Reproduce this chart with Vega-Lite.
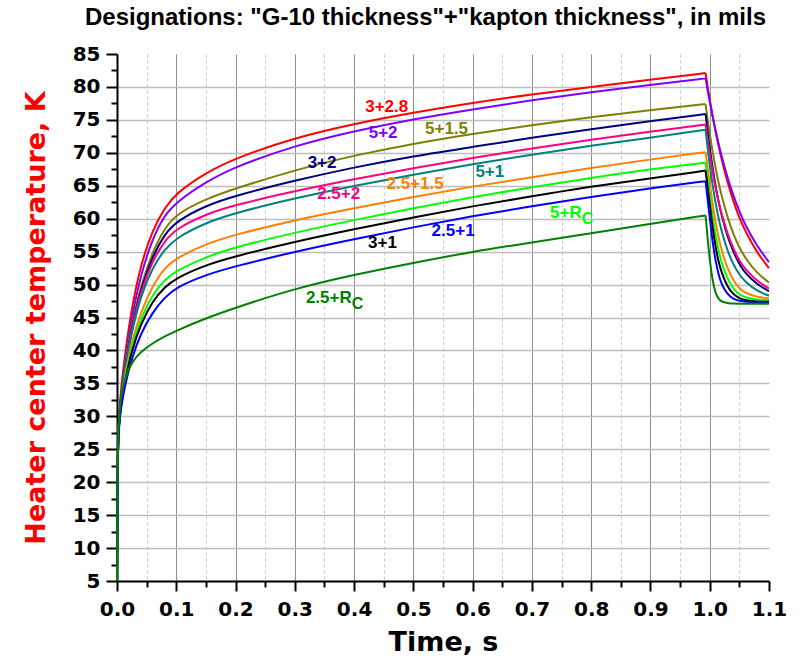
{
  "$schema": "https://vega.github.io/schema/vega-lite/v6.json",
  "width": 652,
  "height": 527,
  "autosize": {"type": "none"},
  "padding": {"left": 117, "top": 54, "right": 34, "bottom": 80},
  "background": "white",
  "title": {
    "text": "Designations: \"G-10 thickness\"+\"kapton thickness\", in mils",
    "font": "Liberation Sans", "fontSize": 24, "fontWeight": "bold", "color": "black",
    "anchor": "start", "frame": "group", "offset": 14, "dx": -32
  },
  "config": {"view": {"stroke": null}},
  "datasets": {
    "curves": [
      {"s":"3+2.8","p":"a","t":0,"T":5},{"s":"3+2.8","p":"a","t":0.001,"T":24},{"s":"3+2.8","p":"a","t":0.003,"T":30},{"s":"3+2.8","p":"a","t":0.007,"T":34.5},{"s":"3+2.8","p":"a","t":0.015,"T":40.5},{"s":"3+2.8","p":"a","t":0.025,"T":46.5},{"s":"3+2.8","p":"a","t":0.04,"T":53},{"s":"3+2.8","p":"a","t":0.06,"T":58.3},{"s":"3+2.8","p":"a","t":0.08,"T":61.6},{"s":"3+2.8","p":"a","t":0.1,"T":63.9},{"s":"3+2.8","p":"a","t":0.15,"T":67},{"s":"3+2.8","p":"a","t":0.2,"T":69.2},{"s":"3+2.8","p":"a","t":0.3,"T":72.3},{"s":"3+2.8","p":"a","t":0.4,"T":74.4},{"s":"3+2.8","p":"a","t":0.5,"T":76.1},{"s":"3+2.8","p":"a","t":0.6,"T":77.6},{"s":"3+2.8","p":"a","t":0.7,"T":78.9},{"s":"3+2.8","p":"a","t":0.8,"T":80},{"s":"3+2.8","p":"a","t":0.9,"T":81.1},{"s":"3+2.8","p":"a","t":0.993,"T":82.1},
      {"s":"3+2.8","p":"b","t":0.993,"T":82.1},{"s":"3+2.8","p":"b","t":0.997,"T":79.7},{"s":"3+2.8","p":"b","t":1,"T":78.1},{"s":"3+2.8","p":"b","t":1.005,"T":75.5},{"s":"3+2.8","p":"b","t":1.01,"T":73.2},{"s":"3+2.8","p":"b","t":1.015,"T":71},{"s":"3+2.8","p":"b","t":1.02,"T":69},{"s":"3+2.8","p":"b","t":1.03,"T":65.5},{"s":"3+2.8","p":"b","t":1.04,"T":62.6},{"s":"3+2.8","p":"b","t":1.05,"T":60.1},{"s":"3+2.8","p":"b","t":1.06,"T":58.1},{"s":"3+2.8","p":"b","t":1.08,"T":54.8},{"s":"3+2.8","p":"b","t":1.1,"T":52.5},
      {"s":"5+2","p":"a","t":0,"T":5},{"s":"5+2","p":"a","t":0.001,"T":24},{"s":"5+2","p":"a","t":0.003,"T":29.5},{"s":"5+2","p":"a","t":0.007,"T":33.8},{"s":"5+2","p":"a","t":0.015,"T":39.5},{"s":"5+2","p":"a","t":0.025,"T":45},{"s":"5+2","p":"a","t":0.04,"T":51.5},{"s":"5+2","p":"a","t":0.06,"T":57},{"s":"5+2","p":"a","t":0.08,"T":60.5},{"s":"5+2","p":"a","t":0.1,"T":62.5},{"s":"5+2","p":"a","t":0.15,"T":65.6},{"s":"5+2","p":"a","t":0.2,"T":67.9},{"s":"5+2","p":"a","t":0.3,"T":71.1},{"s":"5+2","p":"a","t":0.4,"T":73.3},{"s":"5+2","p":"a","t":0.5,"T":75.1},{"s":"5+2","p":"a","t":0.6,"T":76.6},{"s":"5+2","p":"a","t":0.7,"T":78},{"s":"5+2","p":"a","t":0.8,"T":79.2},{"s":"5+2","p":"a","t":0.9,"T":80.3},{"s":"5+2","p":"a","t":0.993,"T":81.3},
      {"s":"5+2","p":"b","t":0.993,"T":81.3},{"s":"5+2","p":"b","t":0.997,"T":79.2},{"s":"5+2","p":"b","t":1,"T":77.8},{"s":"5+2","p":"b","t":1.005,"T":75.4},{"s":"5+2","p":"b","t":1.01,"T":73.3},{"s":"5+2","p":"b","t":1.015,"T":71.3},{"s":"5+2","p":"b","t":1.02,"T":69.5},{"s":"5+2","p":"b","t":1.03,"T":66.2},{"s":"5+2","p":"b","t":1.04,"T":63.5},{"s":"5+2","p":"b","t":1.05,"T":61.1},{"s":"5+2","p":"b","t":1.06,"T":59},{"s":"5+2","p":"b","t":1.08,"T":55.8},{"s":"5+2","p":"b","t":1.1,"T":53.4},
      {"s":"5+1.5","p":"a","t":0,"T":5},{"s":"5+1.5","p":"a","t":0.001,"T":24},{"s":"5+1.5","p":"a","t":0.003,"T":29.3},{"s":"5+1.5","p":"a","t":0.007,"T":33.5},{"s":"5+1.5","p":"a","t":0.015,"T":39},{"s":"5+1.5","p":"a","t":0.025,"T":44},{"s":"5+1.5","p":"a","t":0.04,"T":49.8},{"s":"5+1.5","p":"a","t":0.06,"T":55},{"s":"5+1.5","p":"a","t":0.08,"T":58.5},{"s":"5+1.5","p":"a","t":0.1,"T":60.7},{"s":"5+1.5","p":"a","t":0.15,"T":63},{"s":"5+1.5","p":"a","t":0.2,"T":64.6},{"s":"5+1.5","p":"a","t":0.3,"T":67.4},{"s":"5+1.5","p":"a","t":0.4,"T":69.6},{"s":"5+1.5","p":"a","t":0.5,"T":71.4},{"s":"5+1.5","p":"a","t":0.6,"T":72.9},{"s":"5+1.5","p":"a","t":0.7,"T":74.2},{"s":"5+1.5","p":"a","t":0.8,"T":75.4},{"s":"5+1.5","p":"a","t":0.9,"T":76.5},{"s":"5+1.5","p":"a","t":0.993,"T":77.4},
      {"s":"5+1.5","p":"b","t":0.993,"T":77.4},{"s":"5+1.5","p":"b","t":0.997,"T":74.7},{"s":"5+1.5","p":"b","t":1,"T":72.9},{"s":"5+1.5","p":"b","t":1.005,"T":70.1},{"s":"5+1.5","p":"b","t":1.01,"T":67.6},{"s":"5+1.5","p":"b","t":1.015,"T":65.4},{"s":"5+1.5","p":"b","t":1.02,"T":63.5},{"s":"5+1.5","p":"b","t":1.03,"T":60.2},{"s":"5+1.5","p":"b","t":1.04,"T":57.6},{"s":"5+1.5","p":"b","t":1.05,"T":55.6},{"s":"5+1.5","p":"b","t":1.06,"T":54},{"s":"5+1.5","p":"b","t":1.08,"T":51.7},{"s":"5+1.5","p":"b","t":1.1,"T":50.3},
      {"s":"3+2","p":"a","t":0,"T":5},{"s":"3+2","p":"a","t":0.001,"T":24},{"s":"3+2","p":"a","t":0.003,"T":29.3},{"s":"3+2","p":"a","t":0.007,"T":33.3},{"s":"3+2","p":"a","t":0.015,"T":38.5},{"s":"3+2","p":"a","t":0.025,"T":43.5},{"s":"3+2","p":"a","t":0.04,"T":49.3},{"s":"3+2","p":"a","t":0.06,"T":54.3},{"s":"3+2","p":"a","t":0.08,"T":57.6},{"s":"3+2","p":"a","t":0.1,"T":59.6},{"s":"3+2","p":"a","t":0.15,"T":62},{"s":"3+2","p":"a","t":0.2,"T":63.5},{"s":"3+2","p":"a","t":0.3,"T":65.8},{"s":"3+2","p":"a","t":0.4,"T":67.8},{"s":"3+2","p":"a","t":0.5,"T":69.5},{"s":"3+2","p":"a","t":0.6,"T":70.9},{"s":"3+2","p":"a","t":0.7,"T":72.3},{"s":"3+2","p":"a","t":0.8,"T":73.6},{"s":"3+2","p":"a","t":0.9,"T":74.8},{"s":"3+2","p":"a","t":0.993,"T":75.9},
      {"s":"3+2","p":"b","t":0.993,"T":75.9},{"s":"3+2","p":"b","t":0.997,"T":72.8},{"s":"3+2","p":"b","t":1,"T":70.7},{"s":"3+2","p":"b","t":1.005,"T":67.6},{"s":"3+2","p":"b","t":1.01,"T":64.9},{"s":"3+2","p":"b","t":1.015,"T":62.5},{"s":"3+2","p":"b","t":1.02,"T":60.5},{"s":"3+2","p":"b","t":1.03,"T":57.3},{"s":"3+2","p":"b","t":1.04,"T":54.9},{"s":"3+2","p":"b","t":1.05,"T":53.1},{"s":"3+2","p":"b","t":1.06,"T":51.7},{"s":"3+2","p":"b","t":1.08,"T":50},{"s":"3+2","p":"b","t":1.1,"T":49},
      {"s":"2.5+2","p":"a","t":0,"T":5},{"s":"2.5+2","p":"a","t":0.001,"T":24},{"s":"2.5+2","p":"a","t":0.003,"T":29.2},{"s":"2.5+2","p":"a","t":0.007,"T":33.2},{"s":"2.5+2","p":"a","t":0.015,"T":38.3},{"s":"2.5+2","p":"a","t":0.025,"T":43.2},{"s":"2.5+2","p":"a","t":0.04,"T":49},{"s":"2.5+2","p":"a","t":0.06,"T":53.6},{"s":"2.5+2","p":"a","t":0.08,"T":56.6},{"s":"2.5+2","p":"a","t":0.1,"T":58.5},{"s":"2.5+2","p":"a","t":0.15,"T":60.7},{"s":"2.5+2","p":"a","t":0.2,"T":62.1},{"s":"2.5+2","p":"a","t":0.3,"T":64.2},{"s":"2.5+2","p":"a","t":0.4,"T":66},{"s":"2.5+2","p":"a","t":0.5,"T":67.7},{"s":"2.5+2","p":"a","t":0.6,"T":69.2},{"s":"2.5+2","p":"a","t":0.7,"T":70.7},{"s":"2.5+2","p":"a","t":0.8,"T":72},{"s":"2.5+2","p":"a","t":0.9,"T":73.2},{"s":"2.5+2","p":"a","t":0.993,"T":74.3},
      {"s":"2.5+2","p":"b","t":0.993,"T":74.3},{"s":"2.5+2","p":"b","t":0.997,"T":71.6},{"s":"2.5+2","p":"b","t":1,"T":69.8},{"s":"2.5+2","p":"b","t":1.005,"T":67},{"s":"2.5+2","p":"b","t":1.01,"T":64.6},{"s":"2.5+2","p":"b","t":1.015,"T":62.5},{"s":"2.5+2","p":"b","t":1.02,"T":60.7},{"s":"2.5+2","p":"b","t":1.03,"T":57.7},{"s":"2.5+2","p":"b","t":1.04,"T":55.4},{"s":"2.5+2","p":"b","t":1.05,"T":53.6},{"s":"2.5+2","p":"b","t":1.06,"T":52.3},{"s":"2.5+2","p":"b","t":1.08,"T":50.5},{"s":"2.5+2","p":"b","t":1.1,"T":49.4},
      {"s":"5+1","p":"a","t":0,"T":5},{"s":"5+1","p":"a","t":0.001,"T":24},{"s":"5+1","p":"a","t":0.003,"T":29},{"s":"5+1","p":"a","t":0.007,"T":33},{"s":"5+1","p":"a","t":0.015,"T":38},{"s":"5+1","p":"a","t":0.025,"T":42.8},{"s":"5+1","p":"a","t":0.04,"T":48.3},{"s":"5+1","p":"a","t":0.06,"T":52.6},{"s":"5+1","p":"a","t":0.08,"T":55.3},{"s":"5+1","p":"a","t":0.1,"T":57.1},{"s":"5+1","p":"a","t":0.15,"T":59.4},{"s":"5+1","p":"a","t":0.2,"T":60.9},{"s":"5+1","p":"a","t":0.3,"T":63.1},{"s":"5+1","p":"a","t":0.4,"T":65},{"s":"5+1","p":"a","t":0.5,"T":66.7},{"s":"5+1","p":"a","t":0.6,"T":68.3},{"s":"5+1","p":"a","t":0.7,"T":69.7},{"s":"5+1","p":"a","t":0.8,"T":71.1},{"s":"5+1","p":"a","t":0.9,"T":72.3},{"s":"5+1","p":"a","t":0.993,"T":73.5},
      {"s":"5+1","p":"b","t":0.993,"T":73.5},{"s":"5+1","p":"b","t":0.997,"T":70.3},{"s":"5+1","p":"b","t":1,"T":68.1},{"s":"5+1","p":"b","t":1.005,"T":65},{"s":"5+1","p":"b","t":1.01,"T":62.3},{"s":"5+1","p":"b","t":1.015,"T":60},{"s":"5+1","p":"b","t":1.02,"T":58.1},{"s":"5+1","p":"b","t":1.03,"T":55.1},{"s":"5+1","p":"b","t":1.04,"T":53},{"s":"5+1","p":"b","t":1.05,"T":51.5},{"s":"5+1","p":"b","t":1.06,"T":50.4},{"s":"5+1","p":"b","t":1.08,"T":49},{"s":"5+1","p":"b","t":1.1,"T":48.3},
      {"s":"2.5+1.5","p":"a","t":0,"T":5},{"s":"2.5+1.5","p":"a","t":0.001,"T":24},{"s":"2.5+1.5","p":"a","t":0.003,"T":28.8},{"s":"2.5+1.5","p":"a","t":0.007,"T":32.5},{"s":"2.5+1.5","p":"a","t":0.015,"T":37},{"s":"2.5+1.5","p":"a","t":0.025,"T":41.3},{"s":"2.5+1.5","p":"a","t":0.04,"T":45.8},{"s":"2.5+1.5","p":"a","t":0.06,"T":49.8},{"s":"2.5+1.5","p":"a","t":0.08,"T":52.5},{"s":"2.5+1.5","p":"a","t":0.1,"T":54},{"s":"2.5+1.5","p":"a","t":0.15,"T":56.2},{"s":"2.5+1.5","p":"a","t":0.2,"T":57.6},{"s":"2.5+1.5","p":"a","t":0.3,"T":59.8},{"s":"2.5+1.5","p":"a","t":0.4,"T":61.6},{"s":"2.5+1.5","p":"a","t":0.5,"T":63.3},{"s":"2.5+1.5","p":"a","t":0.6,"T":64.9},{"s":"2.5+1.5","p":"a","t":0.7,"T":66.3},{"s":"2.5+1.5","p":"a","t":0.8,"T":67.7},{"s":"2.5+1.5","p":"a","t":0.9,"T":69},{"s":"2.5+1.5","p":"a","t":0.993,"T":70.1},
      {"s":"2.5+1.5","p":"b","t":0.993,"T":70.1},{"s":"2.5+1.5","p":"b","t":0.997,"T":67.4},{"s":"2.5+1.5","p":"b","t":1,"T":65.4},{"s":"2.5+1.5","p":"b","t":1.005,"T":62.1},{"s":"2.5+1.5","p":"b","t":1.01,"T":59.4},{"s":"2.5+1.5","p":"b","t":1.015,"T":57.1},{"s":"2.5+1.5","p":"b","t":1.02,"T":55.2},{"s":"2.5+1.5","p":"b","t":1.03,"T":52.4},{"s":"2.5+1.5","p":"b","t":1.04,"T":50.6},{"s":"2.5+1.5","p":"b","t":1.05,"T":49.4},{"s":"2.5+1.5","p":"b","t":1.06,"T":48.7},{"s":"2.5+1.5","p":"b","t":1.08,"T":48.1},{"s":"2.5+1.5","p":"b","t":1.1,"T":47.9},
      {"s":"5+RC","p":"a","t":0,"T":5},{"s":"5+RC","p":"a","t":0.001,"T":24},{"s":"5+RC","p":"a","t":0.003,"T":28.6},{"s":"5+RC","p":"a","t":0.007,"T":32.2},{"s":"5+RC","p":"a","t":0.015,"T":36.5},{"s":"5+RC","p":"a","t":0.025,"T":40.5},{"s":"5+RC","p":"a","t":0.04,"T":44.8},{"s":"5+RC","p":"a","t":0.06,"T":48.5},{"s":"5+RC","p":"a","t":0.08,"T":50.7},{"s":"5+RC","p":"a","t":0.1,"T":52.1},{"s":"5+RC","p":"a","t":0.15,"T":54.2},{"s":"5+RC","p":"a","t":0.2,"T":55.7},{"s":"5+RC","p":"a","t":0.3,"T":57.9},{"s":"5+RC","p":"a","t":0.4,"T":59.8},{"s":"5+RC","p":"a","t":0.5,"T":61.6},{"s":"5+RC","p":"a","t":0.6,"T":63.3},{"s":"5+RC","p":"a","t":0.7,"T":64.8},{"s":"5+RC","p":"a","t":0.8,"T":66.2},{"s":"5+RC","p":"a","t":0.9,"T":67.5},{"s":"5+RC","p":"a","t":0.993,"T":68.5},
      {"s":"5+RC","p":"b","t":0.993,"T":68.5},{"s":"5+RC","p":"b","t":0.997,"T":65.7},{"s":"5+RC","p":"b","t":1,"T":63.6},{"s":"5+RC","p":"b","t":1.005,"T":60.2},{"s":"5+RC","p":"b","t":1.01,"T":57.4},{"s":"5+RC","p":"b","t":1.015,"T":55.1},{"s":"5+RC","p":"b","t":1.02,"T":53.3},{"s":"5+RC","p":"b","t":1.03,"T":50.8},{"s":"5+RC","p":"b","t":1.04,"T":49.3},{"s":"5+RC","p":"b","t":1.05,"T":48.5},{"s":"5+RC","p":"b","t":1.06,"T":48},{"s":"5+RC","p":"b","t":1.08,"T":47.7},{"s":"5+RC","p":"b","t":1.1,"T":47.6},
      {"s":"3+1","p":"a","t":0,"T":5},{"s":"3+1","p":"a","t":0.001,"T":24},{"s":"3+1","p":"a","t":0.003,"T":28.5},{"s":"3+1","p":"a","t":0.007,"T":32},{"s":"3+1","p":"a","t":0.015,"T":36},{"s":"3+1","p":"a","t":0.025,"T":40},{"s":"3+1","p":"a","t":0.04,"T":44},{"s":"3+1","p":"a","t":0.06,"T":47.5},{"s":"3+1","p":"a","t":0.08,"T":49.6},{"s":"3+1","p":"a","t":0.1,"T":51},{"s":"3+1","p":"a","t":0.15,"T":53},{"s":"3+1","p":"a","t":0.2,"T":54.3},{"s":"3+1","p":"a","t":0.3,"T":56.5},{"s":"3+1","p":"a","t":0.4,"T":58.4},{"s":"3+1","p":"a","t":0.5,"T":60.2},{"s":"3+1","p":"a","t":0.6,"T":61.9},{"s":"3+1","p":"a","t":0.7,"T":63.4},{"s":"3+1","p":"a","t":0.8,"T":64.9},{"s":"3+1","p":"a","t":0.9,"T":66.1},{"s":"3+1","p":"a","t":0.993,"T":67.3},
      {"s":"3+1","p":"b","t":0.993,"T":67.3},{"s":"3+1","p":"b","t":0.997,"T":64.3},{"s":"3+1","p":"b","t":1,"T":62.2},{"s":"3+1","p":"b","t":1.005,"T":58.5},{"s":"3+1","p":"b","t":1.01,"T":55.6},{"s":"3+1","p":"b","t":1.015,"T":53.4},{"s":"3+1","p":"b","t":1.02,"T":51.8},{"s":"3+1","p":"b","t":1.03,"T":49.6},{"s":"3+1","p":"b","t":1.04,"T":48.5},{"s":"3+1","p":"b","t":1.05,"T":47.9},{"s":"3+1","p":"b","t":1.06,"T":47.6},{"s":"3+1","p":"b","t":1.08,"T":47.4},{"s":"3+1","p":"b","t":1.1,"T":47.4},
      {"s":"2.5+1","p":"a","t":0,"T":5},{"s":"2.5+1","p":"a","t":0.001,"T":24},{"s":"2.5+1","p":"a","t":0.003,"T":28.3},{"s":"2.5+1","p":"a","t":0.007,"T":31.6},{"s":"2.5+1","p":"a","t":0.015,"T":35.3},{"s":"2.5+1","p":"a","t":0.025,"T":38.8},{"s":"2.5+1","p":"a","t":0.04,"T":42.6},{"s":"2.5+1","p":"a","t":0.06,"T":45.8},{"s":"2.5+1","p":"a","t":0.08,"T":48},{"s":"2.5+1","p":"a","t":0.1,"T":49.6},{"s":"2.5+1","p":"a","t":0.15,"T":51.5},{"s":"2.5+1","p":"a","t":0.2,"T":52.8},{"s":"2.5+1","p":"a","t":0.3,"T":55},{"s":"2.5+1","p":"a","t":0.4,"T":56.9},{"s":"2.5+1","p":"a","t":0.5,"T":58.7},{"s":"2.5+1","p":"a","t":0.6,"T":60.4},{"s":"2.5+1","p":"a","t":0.7,"T":61.9},{"s":"2.5+1","p":"a","t":0.8,"T":63.3},{"s":"2.5+1","p":"a","t":0.9,"T":64.6},{"s":"2.5+1","p":"a","t":0.993,"T":65.7},
      {"s":"2.5+1","p":"b","t":0.993,"T":65.7},{"s":"2.5+1","p":"b","t":0.997,"T":62.5},{"s":"2.5+1","p":"b","t":1,"T":60.2},{"s":"2.5+1","p":"b","t":1.005,"T":56.3},{"s":"2.5+1","p":"b","t":1.01,"T":53.5},{"s":"2.5+1","p":"b","t":1.015,"T":51.5},{"s":"2.5+1","p":"b","t":1.02,"T":50},{"s":"2.5+1","p":"b","t":1.03,"T":48.5},{"s":"2.5+1","p":"b","t":1.04,"T":47.8},{"s":"2.5+1","p":"b","t":1.05,"T":47.5},{"s":"2.5+1","p":"b","t":1.06,"T":47.4},{"s":"2.5+1","p":"b","t":1.08,"T":47.3},{"s":"2.5+1","p":"b","t":1.1,"T":47.3},
      {"s":"2.5+RC","p":"a","t":0,"T":5},{"s":"2.5+RC","p":"a","t":0.001,"T":23},{"s":"2.5+RC","p":"a","t":0.003,"T":29.5},{"s":"2.5+RC","p":"a","t":0.007,"T":33.3},{"s":"2.5+RC","p":"a","t":0.015,"T":36.3},{"s":"2.5+RC","p":"a","t":0.025,"T":38.2},{"s":"2.5+RC","p":"a","t":0.04,"T":39.8},{"s":"2.5+RC","p":"a","t":0.06,"T":41.1},{"s":"2.5+RC","p":"a","t":0.08,"T":42.1},{"s":"2.5+RC","p":"a","t":0.1,"T":43},{"s":"2.5+RC","p":"a","t":0.15,"T":44.9},{"s":"2.5+RC","p":"a","t":0.2,"T":46.5},{"s":"2.5+RC","p":"a","t":0.3,"T":49.4},{"s":"2.5+RC","p":"a","t":0.4,"T":51.5},{"s":"2.5+RC","p":"a","t":0.5,"T":53.3},{"s":"2.5+RC","p":"a","t":0.6,"T":55},{"s":"2.5+RC","p":"a","t":0.7,"T":56.4},{"s":"2.5+RC","p":"a","t":0.8,"T":57.8},{"s":"2.5+RC","p":"a","t":0.9,"T":59.2},{"s":"2.5+RC","p":"a","t":0.993,"T":60.5},
      {"s":"2.5+RC","p":"b","t":0.993,"T":60.5},{"s":"2.5+RC","p":"b","t":0.997,"T":56.5},{"s":"2.5+RC","p":"b","t":1,"T":53.8},{"s":"2.5+RC","p":"b","t":1.005,"T":50.4},{"s":"2.5+RC","p":"b","t":1.01,"T":48.6},{"s":"2.5+RC","p":"b","t":1.015,"T":47.8},{"s":"2.5+RC","p":"b","t":1.02,"T":47.4},{"s":"2.5+RC","p":"b","t":1.03,"T":47.2},{"s":"2.5+RC","p":"b","t":1.04,"T":47.1},{"s":"2.5+RC","p":"b","t":1.05,"T":47.1},{"s":"2.5+RC","p":"b","t":1.06,"T":47.1},{"s":"2.5+RC","p":"b","t":1.08,"T":47.1},{"s":"2.5+RC","p":"b","t":1.1,"T":47.1}
    ],
    "tags": [
      {"s":"3+2.8","t":0.455,"T":77.0,"text":"3+2.8"},
      {"s":"5+2","t":0.449,"T":73.0,"text":"5+2"},
      {"s":"5+1.5","t":0.556,"T":73.6,"text":"5+1.5"},
      {"s":"3+2","t":0.346,"T":68.5,"text":"3+2"},
      {"s":"2.5+2","t":0.374,"T":63.7,"text":"2.5+2"},
      {"s":"2.5+1.5","t":0.503,"T":65.3,"text":"2.5+1.5"},
      {"s":"5+1","t":0.629,"T":67.1,"text":"5+1"},
      {"s":"3+1","t":0.448,"T":56.3,"text":"3+1"},
      {"s":"2.5+1","t":0.567,"T":58.2,"text":"2.5+1"},
      {"s":"5+RC","t":0.784,"T":60.85,"text":"5+R","sub":"C"},
      {"s":"2.5+RC","t":0.396,"T":47.96,"text":"2.5+R","sub":"C"}
    ]
  },
  "layer": [
    {
      "data": {"name": "curves"},
      "mark": {"type": "line", "strokeWidth": 2, "interpolate": "basis"},
      "encoding": {
        "x": {
          "field": "t", "type": "quantitative",
          "scale": {"domain": [0, 1.1], "nice": false, "zero": false},
          "axis": {
            "orient": "bottom",
            "values": [0, 0.1, 0.2, 0.3, 0.4, 0.5, 0.6, 0.7, 0.8, 0.9, 1, 1.1],
            "format": ".1f",
            "labelFont": "DejaVu Sans", "labelFontSize": 20, "labelFontWeight": "bold", "labelColor": "black",
            "labelPadding": 8, "labelFlush": false, "labelOverlap": false,
            "tickSize": 10, "tickWidth": 2, "tickColor": "black",
            "domainColor": "black", "domainWidth": 2,
            "grid": true, "gridColor": "#8e8e8e", "gridWidth": 1,
            "gridOpacity": {"condition": {"test": "datum.value > 1.05", "value": 0}, "value": 1},
            "title": "Time, s",
            "titleFont": "DejaVu Sans", "titleFontSize": 27, "titleFontWeight": "bold", "titleColor": "black",
            "titlePadding": 10
          }
        },
        "y": {
          "field": "T", "type": "quantitative",
          "scale": {"domain": [5, 85], "nice": false, "zero": false},
          "axis": {
            "orient": "left",
            "values": [5, 10, 15, 20, 25, 30, 35, 40, 45, 50, 55, 60, 65, 70, 75, 80, 85],
            "labelFont": "DejaVu Sans", "labelFontSize": 20, "labelFontWeight": "bold", "labelColor": "black",
            "labelPadding": 6, "labelFlush": false, "labelOverlap": false,
            "tickSize": 11, "tickWidth": 2, "tickColor": "black",
            "domainColor": "black", "domainWidth": 2,
            "grid": true, "gridColor": "#bdbdbd", "gridWidth": 1.5,
            "gridOpacity": {"condition": {"test": "datum.value > 84", "value": 0}, "value": 1},
            "title": "Heater center temperature, K",
            "titleFont": "DejaVu Sans", "titleFontSize": 27, "titleFontWeight": "bold", "titleColor": "#ff0000",
            "titlePadding": 22
          }
        },
        "color": {
          "field": "s", "type": "nominal",
          "scale": {
            "domain": ["3+2.8", "5+2", "5+1.5", "3+2", "2.5+2", "5+1", "2.5+1.5", "5+RC", "3+1", "2.5+1", "2.5+RC"],
            "range": ["#ff0000", "#8000ff", "#808000", "#000080", "#ff0080", "#008080", "#ff8000", "#00ff00", "#000000", "#0000ff", "#008000"]
          },
          "legend": null
        },
        "detail": {"field": "p", "type": "nominal"}
      }
    },
    {
      "data": {"name": "tags"},
      "transform": [{"filter": "!datum.sub"}],
      "mark": {"type": "text", "font": "Liberation Sans", "fontSize": 17, "fontWeight": "bold", "align": "center", "baseline": "middle"},
      "encoding": {
        "x": {
          "field": "t", "type": "quantitative",
          "scale": {"domain": [0, 1.1], "nice": false, "zero": false},
          "axis": {
            "orient": "bottom",
            "values": [0.05, 0.15, 0.25, 0.35, 0.45, 0.55, 0.65, 0.75, 0.85, 0.95, 1.05],
            "labels": false, "domain": false, "title": null,
            "tickSize": 6, "tickWidth": 2, "tickColor": "black",
            "grid": true, "gridColor": "#c8c8c8", "gridWidth": 1, "gridDash": [3, 3]
          }
        },
        "y": {
          "field": "T", "type": "quantitative",
          "scale": {"domain": [5, 85], "nice": false, "zero": false},
          "axis": {
            "orient": "left",
            "values": [7.5, 12.5, 17.5, 22.5, 27.5, 32.5, 37.5, 42.5, 47.5, 52.5, 57.5, 62.5, 67.5, 72.5, 77.5, 82.5],
            "labels": false, "domain": false, "title": null, "grid": false,
            "tickSize": 6, "tickWidth": 2, "tickColor": "black"
          }
        },
        "text": {"field": "text"},
        "color": {"field": "s", "type": "nominal", "legend": null}
      }
    },
    {
      "data": {"name": "tags"},
      "transform": [{"filter": "datum.sub"}],
      "mark": {"type": "text", "font": "Liberation Sans", "fontSize": 17, "fontWeight": "bold", "align": "right", "baseline": "middle"},
      "encoding": {
        "x": {"field": "t", "type": "quantitative", "scale": {"domain": [0, 1.1], "nice": false, "zero": false}, "axis": null},
        "y": {"field": "T", "type": "quantitative", "scale": {"domain": [5, 85], "nice": false, "zero": false}, "axis": null},
        "text": {"field": "text"},
        "color": {"field": "s", "type": "nominal", "legend": null}
      }
    },
    {
      "data": {"name": "tags"},
      "transform": [{"filter": "datum.sub"}],
      "mark": {"type": "text", "font": "Liberation Sans", "fontSize": 16, "fontWeight": "bold", "align": "left", "baseline": "middle", "dy": 6},
      "encoding": {
        "x": {"field": "t", "type": "quantitative", "scale": {"domain": [0, 1.1], "nice": false, "zero": false}, "axis": null},
        "y": {"field": "T", "type": "quantitative", "scale": {"domain": [5, 85], "nice": false, "zero": false}, "axis": null},
        "text": {"field": "sub"},
        "color": {"field": "s", "type": "nominal", "legend": null}
      }
    }
  ],
  "resolve": {"axis": {"x": "independent", "y": "independent"}}
}
